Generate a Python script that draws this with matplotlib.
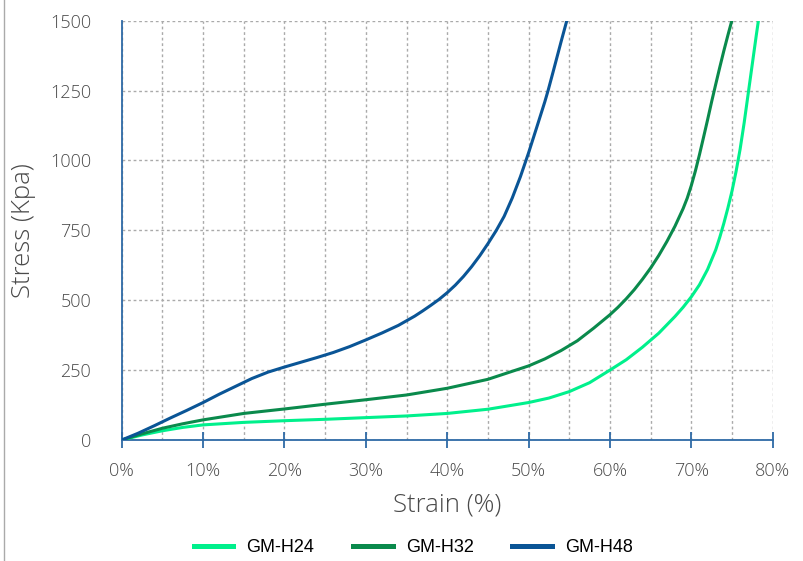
import matplotlib
matplotlib.use("Agg")
import matplotlib.pyplot as plt
from matplotlib.lines import Line2D
from matplotlib.ticker import MultipleLocator, FuncFormatter

# Strain (%) / Stress (kPa)
h24_strain = [0, 2.5, 5, 7.5, 10, 15, 20, 25, 30, 35, 40, 45, 50, 52.5, 55, 57.5, 60, 62, 64, 66,
              68, 69, 70, 71, 72, 73, 73.5, 74, 74.5, 75, 75.5, 76, 76.5, 77, 77.5, 78, 78.25]
h24_stress = [0, 18, 33, 45, 54, 63, 69, 74, 80, 86, 95, 110, 134, 150, 173, 205, 250, 287, 332, 382,
              442, 475, 512, 555, 610, 680, 725, 775, 830, 890, 960, 1040, 1135, 1240, 1345, 1450, 1500]

h32_strain = [0, 2.5, 5, 7.5, 10, 15, 20, 25, 30, 35, 40, 45, 50, 52, 54, 56, 58, 60, 61, 62, 63,
              64, 65, 66, 67, 68, 69, 69.5, 70, 70.5, 71, 71.5, 72, 72.5, 73, 73.5, 74, 74.5, 75]
h32_stress = [0, 22, 42, 58, 72, 95, 111, 128, 144, 161, 185, 217, 265, 290, 320, 355, 400, 448, 475,
              505, 538, 575, 615, 660, 710, 765, 828, 865, 910, 962, 1020, 1082, 1145, 1210, 1272,
              1333, 1392, 1448, 1502]

h48_strain = [0, 2, 4, 6, 8, 10, 12, 14, 16, 18, 20, 22, 24, 26, 28, 30, 32, 34, 36, 37, 38, 39,
              40, 41, 42, 43, 44, 45, 46, 47, 48, 49, 50, 51, 52, 52.4, 53, 54, 54.7]
h48_stress = [0, 24, 51, 79, 106, 134, 164, 192, 220, 243, 261, 278, 295, 313, 334, 358, 383, 410,
              443, 462, 482, 503, 527, 554, 585, 620, 659, 702, 748, 800, 866, 942, 1027, 1118,
              1210, 1250, 1315, 1425, 1500]

series_names = ["GM-H24", "GM-H32", "GM-H48"]
series_colors = ["#00f08c", "#0a8a4c", "#0a5596"]

x_ticks = [0, 10, 20, 30, 40, 50, 60, 70, 80]
y_ticks = [0, 250, 500, 750, 1000, 1250, 1500]

fig = plt.figure(figsize=(8.04, 5.61), dpi=100)
ax = fig.add_axes([0.1514, 0.2157, 0.8096, 0.7474])

for xs, ys, c in zip([h24_strain, h32_strain, h48_strain],
                     [h24_stress, h32_stress, h48_stress], series_colors):
    ax.plot(xs, ys, color=c, lw=2.2, solid_joinstyle="round", zorder=3)

ax.set_xlim(0, 80)
ax.set_ylim(0, 1500)
ax.set_xticks(x_ticks)
ax.xaxis.set_minor_locator(MultipleLocator(5))
ax.set_yticks(y_ticks)
ax.xaxis.set_major_formatter(FuncFormatter(lambda v, p: f"{int(v)}%"))

grid_kw = dict(color="#aaaaaa", linestyle=(0, (2, 2)), linewidth=1.0)
ax.grid(True, axis="x", which="both", **grid_kw)
ax.grid(True, axis="y", which="major", **grid_kw)
ax.set_axisbelow(True)

spine_color = "#2e6aa6"
for s in ["top", "right"]:
    ax.spines[s].set_visible(False)
for s in ["left", "bottom"]:
    ax.spines[s].set_color(spine_color)
    ax.spines[s].set_linewidth(1.3)

tick_font = "Open Sans"
ax.tick_params(axis="x", which="major", direction="inout", length=11, width=1.3,
               color=spine_color, pad=10, labelsize=13, labelcolor="#4a4a4a")
ax.tick_params(axis="x", which="minor", length=0)
ax.tick_params(axis="y", which="major", length=0, pad=22, labelsize=13, labelcolor="#4a4a4a")
for lab in ax.get_xticklabels() + ax.get_yticklabels():
    lab.set_fontfamily(tick_font)
    lab.set_fontweight("light")

ax.set_xlabel("Strain (%)", fontsize=18.5, color="#4a4a4a", fontfamily=tick_font,
              fontweight="light", labelpad=9)
ax.set_ylabel("Stress (Kpa)", fontsize=18.5, color="#4a4a4a", fontfamily=tick_font,
              fontweight="light", labelpad=10)

handles = [Line2D([0], [0], color=c, lw=3.6) for c in series_colors]
fig.legend(handles, series_names, loc="center", bbox_to_anchor=(0.514, 0.0232),
           ncol=3, frameon=False, handlelength=2.2, columnspacing=2.15, handletextpad=0.72,
           prop={"family": "Liberation Sans", "size": 13})

fig.add_artist(Line2D([4.5 / 804, 4.5 / 804], [0, 1], transform=fig.transFigure,
                      color="#aaaaaa", lw=1.0))

fig.savefig("out.png", dpi=100)
